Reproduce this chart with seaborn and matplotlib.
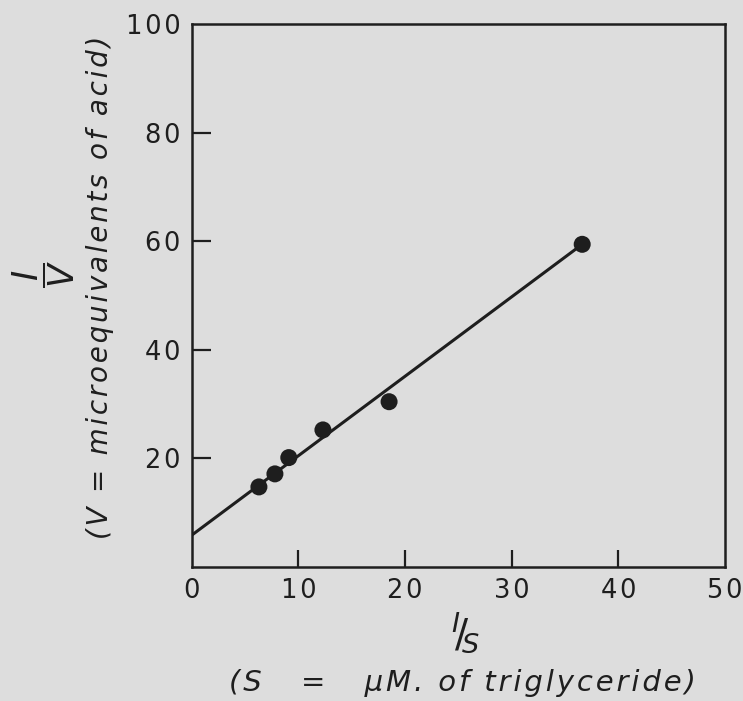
# Lineweaver-Burk plot: 1/V against 1/S
import numpy as np
import pandas as pd
import matplotlib
matplotlib.use('Agg')
import matplotlib.pyplot as plt
import seaborn as sns

# Data
inv_s = [6.3, 7.8, 9.1, 12.3, 18.5, 36.6]
inv_v = [14.7, 17.1, 20.1, 25.2, 30.4, 59.4]

# Fitted line ends (intercept at 1/S = 0, ends at last point)
line_x = [0, 36.6]
line_y = [5.8, 59.4]

x_ticks = [0, 10, 20, 30, 40, 50]
y_ticks = [20, 40, 60, 80, 100]

points = pd.DataFrame({'inv_s': inv_s, 'inv_v': inv_v})
fit = pd.DataFrame({'inv_s': line_x, 'inv_v': line_y})

sns.set_style('white')
plt.rcParams['font.family'] = ['DejaVu Sans']

bg = '#dddddd'
ink = '#1e1e1e'


def spaced(s):
    # wide letter spacing like the original lettering
    return '\u200a'.join(s)


fig = plt.figure(figsize=(7.43, 7.01), dpi=100, facecolor=bg)
ax = fig.add_axes([0.258, 0.1916, 0.718, 0.7742])
ax.set_facecolor(bg)

# Line and points
sns.lineplot(data=fit, x='inv_s', y='inv_v', color=ink, linewidth=2.2, ax=ax)
sns.scatterplot(data=points, x='inv_s', y='inv_v', color=ink, s=150,
                edgecolor='none', ax=ax, zorder=3)

ax.set_xlim(0, 50)
ax.set_ylim(0, 100)
ax.set_xticks(x_ticks)
ax.set_yticks(y_ticks)
ax.set_xticklabels([spaced(str(t)) for t in x_ticks], fontsize=18.5, color=ink)
ax.set_yticklabels([spaced(str(t)) for t in y_ticks], fontsize=18.5, color=ink)
ax.tick_params(axis='x', bottom=True, direction='in', length=12.5, width=1.6,
               color=ink, pad=8)
ax.tick_params(axis='y', left=True, direction='in', length=13.5, width=1.6,
               color=ink, pad=8)

# no tick marks at the frame corners
for t in ax.xaxis.get_major_ticks():
    if t.get_loc() in (0, 50):
        t.tick1line.set_visible(False)
for t in ax.yaxis.get_major_ticks():
    if t.get_loc() == 100:
        t.tick1line.set_visible(False)

for sp in ax.spines.values():
    sp.set_color(ink)
    sp.set_linewidth(1.8)

ax.set_xlabel('')
ax.set_ylabel('')

# Axis titles
fig.text(0.058, 0.609, r'$\dfrac{\mathit{I}}{\mathit{V}}$', fontsize=25,
         rotation=90, color=ink, ha='center', va='center')
fig.text(0.135, 0.59, spaced('(V = microequivalents of acid)'), rotation=90,
         fontsize=20, style='italic', color=ink, ha='center', va='center')
fig.text(0.627, 0.098, r'$^{\mathit{I}}\!/\!_{\mathit{S}}$', fontsize=28,
         color=ink, ha='center', va='center')
fig.text(0.622, 0.025, spaced('(S   =   \u00b5M. of triglyceride)'), fontsize=21,
         style='italic', color=ink, ha='center', va='center')

fig.savefig('out.png', dpi=100, facecolor=bg)
